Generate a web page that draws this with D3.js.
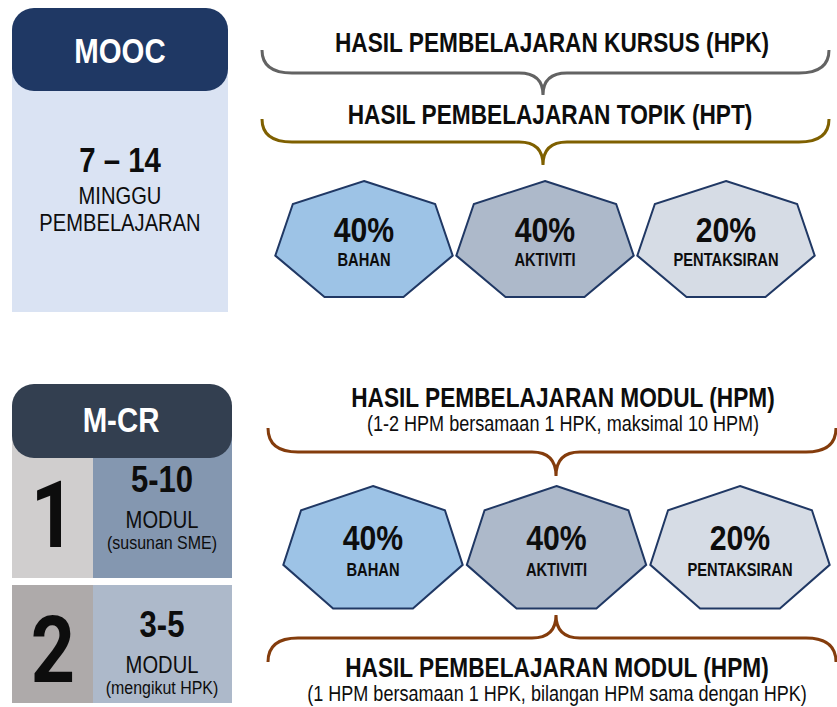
<!DOCTYPE html>
<html>
<head>
<meta charset="utf-8">
<script src="https://cdn.jsdelivr.net/npm/d3@7/dist/d3.min.js"></script>
<style>
  body { margin: 0; background: #fff; }
</style>
</head>
<body>
<div id="chart"></div>
<script>
// components of each learning outcome
var parts = ["BAHAN", "AKTIVITI", "PENTAKSIRAN"];
var weights = [40, 40, 20];
var partColors = ["#9dc3e6", "#adb9ca", "#d6dce5"];

var moocTitle = "MOOC";
var moocWeeks = "7 – 14";
var moocUnit = ["MINGGU", "PEMBELAJARAN"];

var mcrTitle = "M-CR";
var mcrOptions = ["1", "2"];
var mcrModules = ["5-10", "3-5"];
var mcrNotes = ["(susunan SME)", "(mengikut HPK)"];

var moocHeads = ["HASIL PEMBELAJARAN KURSUS (HPK)", "HASIL PEMBELAJARAN TOPIK (HPT)"];
var mcrHead = "HASIL PEMBELAJARAN MODUL (HPM)";
var mcrHeadNotes = ["(1-2 HPM bersamaan 1 HPK, maksimal 10 HPM)", "(1 HPM bersamaan 1 HPK, bilangan HPM sama dengan HPK)"];

var W = 837, H = 707;
// no narrow face installed, so squeeze Liberation Sans horizontally
var squeeze = 0.84;

var svg = d3.select("#chart").append("svg")
    .attr("width", W)
    .attr("height", H)
    .style("font-family", "'Liberation Sans', Arial, sans-serif");

svg.append("rect").attr("width", W).attr("height", H).attr("fill", "#fff");

function label(g, x, y, txt, size, weight, fill) {
    return g.append("text")
        .attr("transform", "translate(" + x + "," + y + ") scale(" + squeeze + ",1)")
        .attr("text-anchor", "middle")
        .attr("fill", fill || "#0d0d0d")
        .style("font-size", size + "px")
        .style("font-weight", weight || "normal")
        .text(txt);
}

// horizontal curly brace; yEnd above yLine = opens up, below = opens down
function brace(x0, x1, cx, yEnd, yLine, yTip) {
    var p = d3.path();
    p.moveTo(x0, yEnd);
    p.quadraticCurveTo(x0, yLine, x0 + 30, yLine);
    p.lineTo(cx - 24, yLine);
    p.quadraticCurveTo(cx, yLine, cx, yTip);
    p.quadraticCurveTo(cx, yLine, cx + 24, yLine);
    p.lineTo(x1 - 30, yLine);
    p.quadraticCurveTo(x1, yLine, x1, yEnd);
    return p.toString();
}

function heptagon(rx, ry) {
    var pts = d3.range(7).map(function (k) {
        var a = k * 2 * Math.PI / 7;
        return [rx * Math.sin(a), -ry * Math.cos(a)];
    });
    return d3.line()(pts) + "Z";
}

function heptagonRow(x0, x1, top, rx, ry, pctDy, nameDy) {
    var x = d3.scalePoint().domain(parts).range([x0, x1]);
    var g = svg.append("g");
    var cell = g.selectAll("g.hept")
        .data(parts)
        .enter()
        .append("g")
        .attr("class", "hept")
        .attr("transform", function (d) { return "translate(" + x(d) + "," + top + ")"; });

    cell.append("path")
        .attr("transform", "translate(0," + ry + ")")
        .attr("d", heptagon(rx, ry))
        .attr("fill", function (d, i) { return partColors[i]; })
        .attr("stroke", "#203864")
        .attr("stroke-width", 2);

    cell.each(function (d, i) {
        var c = d3.select(this);
        label(c, 0, pctDy, weights[i] + "%", 36, "bold");
        label(c, 0, nameDy, d, 17.5, "bold");
    });
}

// ---- MOOC block ----
var mooc = svg.append("g");
mooc.append("rect").attr("x", 12).attr("y", 50).attr("width", 216).attr("height", 262).attr("fill", "#dae3f3");
mooc.append("rect").attr("x", 12).attr("y", 8).attr("width", 216).attr("height", 83).attr("rx", 22).attr("fill", "#1f3864");
label(mooc, 120, 63, moocTitle, 35, "bold", "#fff");
label(mooc, 120, 172, moocWeeks, 35, "bold");
moocUnit.forEach(function (t, i) {
    label(mooc, 120, 204 + i * 27, t, 24);
});

svg.append("path").attr("d", brace(262, 829, 543, 50, 73, 95))
    .attr("fill", "none").attr("stroke", "#636363").attr("stroke-width", 3);
label(svg, 552, 52, moocHeads[0], 27, "bold");

svg.append("path").attr("d", brace(262, 829, 543, 119, 142, 165))
    .attr("fill", "none").attr("stroke", "#7f6000").attr("stroke-width", 3);
label(svg, 550, 124, moocHeads[1], 27, "bold");

heptagonRow(364, 726, 181, 91, 61, 61, 85);

// ---- M-CR block ----
var mcr = svg.append("g");
var rowTop = [420, 585], rowBottom = [578, 703];
var leftFill = ["#d0cece", "#aeaaaa"], rightFill = ["#8497b0", "#adb9ca"];
mcrOptions.forEach(function (opt, i) {
    mcr.append("rect").attr("x", 12).attr("y", rowTop[i]).attr("width", 81).attr("height", rowBottom[i] - rowTop[i]).attr("fill", leftFill[i]);
    mcr.append("rect").attr("x", 93).attr("y", rowTop[i]).attr("width", 139).attr("height", rowBottom[i] - rowTop[i]).attr("fill", rightFill[i]);
});
mcr.append("rect").attr("x", 12).attr("y", 384).attr("width", 220).attr("height", 74).attr("rx", 22).attr("fill", "#333f50");
label(mcr, 121, 432, mcrTitle, 35, "bold", "#fff");

var optBase = [547, 682], modTop = [492, 637];
mcrOptions.forEach(function (opt, i) {
    // big option numbers: Roboto's "1" has no foot, closer to the original
    label(mcr, 53, optBase[i], opt, 92, "bold").style("font-family", "Roboto, 'Liberation Sans', sans-serif");
    label(mcr, 162, modTop[i], mcrModules[i], 37, "bold");
    label(mcr, 162, modTop[i] + 36, "MODUL", 24);
    label(mcr, 162, modTop[i] + 57, mcrNotes[i], 19);
});

label(svg, 563, 407, mcrHead, 27, "bold");
label(svg, 563, 431, mcrHeadNotes[0], 21.5);
svg.append("path").attr("d", brace(268, 836, 556, 428, 452, 476))
    .attr("fill", "none").attr("stroke", "#843c0c").attr("stroke-width", 3);

heptagonRow(373, 740, 486, 92, 64.5, 64, 90);

svg.append("path").attr("d", brace(268, 836, 556, 662, 638, 615))
    .attr("fill", "none").attr("stroke", "#843c0c").attr("stroke-width", 3);
label(svg, 557, 677, mcrHead, 27, "bold");
label(svg, 557, 701, mcrHeadNotes[1], 21.5);
</script>
</body>
</html>
